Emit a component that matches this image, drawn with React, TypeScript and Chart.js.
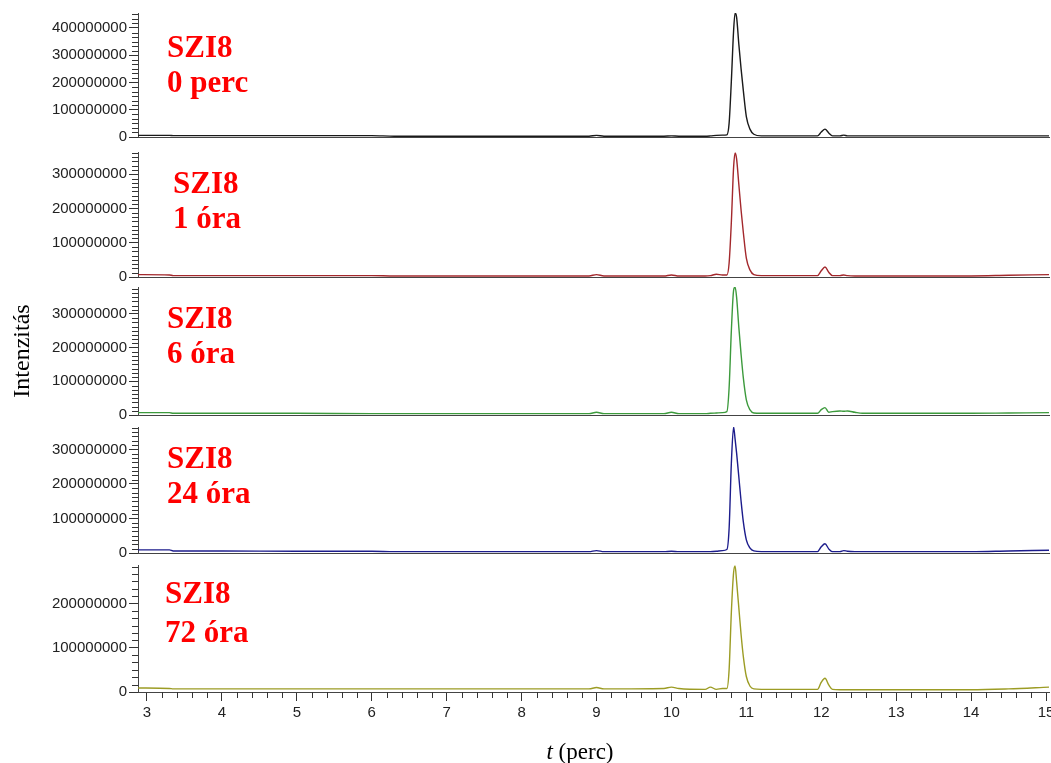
import React, { useEffect, useRef } from 'react';
import { Chart, registerables } from 'chart.js';

Chart.register(...registerables);

// Retention time (perc)
const TIME = [2.88, 3.3, 3.35, 4, 5, 6, 6.3, 7, 8, 8.9, 9.0, 9.1, 9.9, 10.0, 10.1, 10.45, 10.52, 10.6, 10.68, 10.74, 10.77, 10.8, 10.83, 10.85, 10.87, 10.9, 10.93, 10.96, 11.0, 11.05, 11.1, 11.2, 11.95, 12.0, 12.05, 12.1, 12.15, 12.25, 12.3, 12.35, 12.45, 12.55, 13, 14, 14.5, 15.04];

// Intensities in millions
const UNIT = 1e6;
const I_0PERC = [6, 6, 5, 5, 5, 5, 3, 3, 3, 3, 6, 3, 3, 4, 3, 3, 4, 6, 7, 8, 50, 205, 390, 455, 440, 340, 250, 170, 75, 28, 10, 4, 4, 18, 29, 15, 4, 4, 7, 4, 4, 4, 4, 4, 4, 4];
const I_1ORA = [7, 6, 4, 4, 4, 4, 3, 3, 3, 3, 7, 3, 3, 6, 3, 3, 4, 8, 6, 6, 40, 160, 320, 362, 345, 270, 195, 130, 55, 20, 7, 4, 4, 18, 29, 14, 4, 4, 6, 4, 3, 3, 3, 3, 5, 7];
const I_6ORA = [7, 7, 5, 5, 5, 4, 4, 4, 4, 4, 8, 4, 4, 8, 4, 4, 5, 6, 7, 10, 80, 250, 370, 380, 350, 260, 180, 110, 45, 15, 6, 5, 5, 16, 22, 8, 10, 12, 11, 12, 8, 5, 5, 5, 6, 7];
const I_24ORA = [9, 9, 6, 6, 5, 5, 4, 4, 4, 4, 7, 4, 4, 5, 4, 4, 4, 5, 7, 10, 70, 260, 365, 330, 290, 220, 150, 90, 38, 14, 6, 4, 4, 18, 27, 12, 4, 4, 7, 5, 4, 4, 4, 4, 6, 8];
const I_72ORA = [9, 8, 7, 7, 7, 7, 7, 7, 7, 7, 10, 7, 8, 11, 8, 6, 11, 6, 8, 8, 50, 180, 270, 285, 250, 190, 130, 80, 35, 13, 7, 6, 6, 22, 31, 16, 6, 5, 5, 5, 5, 5, 5, 5, 7, 11];

const SAMPLE = 'SZI8';
const TIMES_LABELS = ['0 perc', '1 óra', '6 óra', '24 óra', '72 óra'];
const Y_MAX = [455, 365, 380, 365, 287];
const Y_TICKS = [0, 100, 200, 300, 400];
const X_TICKS = [3, 4, 5, 6, 7, 8, 9, 10, 11, 12, 13, 14, 15];
const X_MIN = 2.88;
const X_MAX = 15.04;
const Y_TITLE = 'Intenzitás';
const X_TITLE_VAR = 't';
const X_TITLE_UNIT = ' (perc)';

const SERIES = [I_0PERC, I_1ORA, I_6ORA, I_24ORA, I_72ORA];

// layout / style (page coordinates)
const LAYOUT = [
  { top: 13, bottom: 137, lx: 167, ly: [44, 79], minor: 100 / 6, color: '#1a1a1a' },
  { top: 152, bottom: 277, lx: 173, ly: [41, 76], minor: 12.5, color: '#a3282c' },
  { top: 287, bottom: 415, lx: 167, ly: [41, 76], minor: 12.5, color: '#3c9a3c' },
  { top: 427, bottom: 553, lx: 167, ly: [41, 76], minor: 12.5, color: '#1c1c8c' },
  { top: 565, bottom: 692, lx: 165, ly: [38, 77], minor: 100 / 6, color: '#9c9c24' },
];

const CANVAS_W = 1058;
const AXIS_W = 138;
const PAD_TOP = 14;
const PAD_BOTTOM = 14;
const XAXIS_H = 30;
const TICK_FONT = { family: '"Liberation Sans", Arial, sans-serif', size: 15 };
const SERIF = '"Liberation Serif", "Times New Roman", serif';

function Panel({ idx }: { idx: number }) {
  const ref = useRef<HTMLCanvasElement>(null);
  const L = LAYOUT[idx];
  const last = idx === SERIES.length - 1;
  const canvasTop = L.top - PAD_TOP;
  const H = last ? 775 - canvasTop : L.bottom - L.top + PAD_TOP + PAD_BOTTOM;
  const padBottom = last ? H - PAD_TOP - (L.bottom - L.top) - XAXIS_H : PAD_BOTTOM;

  useEffect(() => {
    const values = SERIES[idx];
    const minorPlugin = {
      id: 'minorTicks',
      afterDraw(chart: any) {
        const ctx = chart.ctx;
        const y = chart.scales.y;
        const x = chart.scales.x;
        ctx.save();
        ctx.strokeStyle = '#333';
        ctx.lineWidth = 1;
        ctx.beginPath();
        const n = Math.floor(Y_MAX[idx] / L.minor + 1e-6);
        for (let i = 0; i <= n; i++) {
          const v = i * L.minor;
          if (Math.abs(v / 100 - Math.round(v / 100)) < 1e-6) continue;
          const py = Math.round(y.getPixelForValue(v * UNIT)) + 0.5;
          ctx.moveTo(y.right - 6, py);
          ctx.lineTo(y.right, py);
        }
        if (last) {
          for (let i = 15; i <= 75; i++) {
            if (i % 5 === 0) continue;
            const v = i / 5;
            const px = Math.round(x.getPixelForValue(v)) + 0.5;
            ctx.moveTo(px, x.top);
            ctx.lineTo(px, x.top + 6);
          }
        }
        ctx.stroke();
        ctx.restore();
      },
    };
    const labelPlugin = {
      id: 'panelLabel',
      afterDraw(chart: any) {
        const ctx = chart.ctx;
        const ca = chart.chartArea;
        ctx.save();
        ctx.fillStyle = '#ff0000';
        ctx.font = 'bold 31px ' + SERIF;
        ctx.textBaseline = 'alphabetic';
        ctx.textAlign = 'left';
        ctx.fillText(SAMPLE, L.lx, ca.top + L.ly[0]);
        ctx.fillText(TIMES_LABELS[idx], L.lx, ca.top + L.ly[1]);
        if (last) {
          ctx.fillStyle = '#000';
          const base = 759 - canvasTop;
          ctx.font = 'italic 23px ' + SERIF;
          const w1 = ctx.measureText(X_TITLE_VAR).width;
          ctx.font = '23px ' + SERIF;
          const w2 = ctx.measureText(X_TITLE_UNIT).width;
          const start = 580 - (w1 + w2) / 2;
          ctx.font = 'italic 23px ' + SERIF;
          ctx.fillText(X_TITLE_VAR, start, base);
          ctx.font = '23px ' + SERIF;
          ctx.fillText(X_TITLE_UNIT, start + w1, base);
        }
        ctx.restore();
      },
    };

    const chart = new Chart(ref.current as HTMLCanvasElement, {
      type: 'line',
      data: {
        datasets: [
          {
            data: TIME.map((t, i) => ({ x: t, y: values[i] * UNIT })),
            borderColor: L.color,
            borderWidth: 1.4,
            pointRadius: 0,
            fill: false,
            cubicInterpolationMode: 'monotone',
          } as any,
        ],
      },
      options: {
        responsive: false,
        animation: false,
        devicePixelRatio: 1,
        layout: { padding: { top: PAD_TOP, bottom: padBottom, left: 0, right: 9 } },
        plugins: { legend: { display: false }, tooltip: { enabled: false } },
        scales: {
          x: {
            type: 'linear',
            min: X_MIN,
            max: X_MAX,
            afterBuildTicks: (s: any) => {
              s.ticks = X_TICKS.map((v) => ({ value: v }));
            },
            afterFit: (s: any) => {
              s.height = last ? XAXIS_H : 0;
            },
            grid: {
              drawOnChartArea: false,
              drawTicks: last,
              tickLength: 9,
              tickColor: '#333',
            },
            border: { display: true, color: '#444', width: 1 },
            ticks: {
              display: last,
              autoSkip: false,
              maxRotation: 0,
              padding: 3,
              color: '#222',
              font: TICK_FONT,
              callback: (v: any) => String(Math.round(v)),
            },
          },
          y: {
            type: 'linear',
            min: 0,
            max: Y_MAX[idx] * UNIT,
            afterBuildTicks: (s: any) => {
              s.ticks = Y_TICKS.filter((v) => v <= Y_MAX[idx]).map((v) => ({ value: v * UNIT }));
            },
            afterFit: (s: any) => {
              s.width = AXIS_W;
            },
            title: {
              display: idx === 2,
              text: Y_TITLE,
              color: '#000',
              font: { family: SERIF, size: 24 },
              padding: { top: 8, bottom: 0 },
            },
            grid: {
              drawOnChartArea: false,
              drawTicks: true,
              tickLength: 9,
              tickColor: '#333',
            },
            border: { display: true, color: '#444', width: 1 },
            ticks: {
              autoSkip: false,
              padding: 2,
              color: '#222',
              font: TICK_FONT,
              callback: (v: any) => String(Math.round(v)),
            },
          },
        },
      },
      plugins: [minorPlugin, labelPlugin],
    });
    return () => chart.destroy();
  }, []);

  return (
    <div style={{ position: 'absolute', left: 0, top: canvasTop, width: CANVAS_W, height: H }}>
      <canvas ref={ref} width={CANVAS_W} height={H} style={{ display: 'block', width: CANVAS_W, height: H }} />
    </div>
  );
}

export default function App() {
  return (
    <div
      style={{
        position: 'absolute',
        left: 0,
        top: 0,
        width: 1051,
        height: 763,
        overflow: 'hidden',
        background: '#fff',
      }}
    >
      {SERIES.map((_, i) => (
        <Panel key={i} idx={i} />
      ))}
    </div>
  );
}
